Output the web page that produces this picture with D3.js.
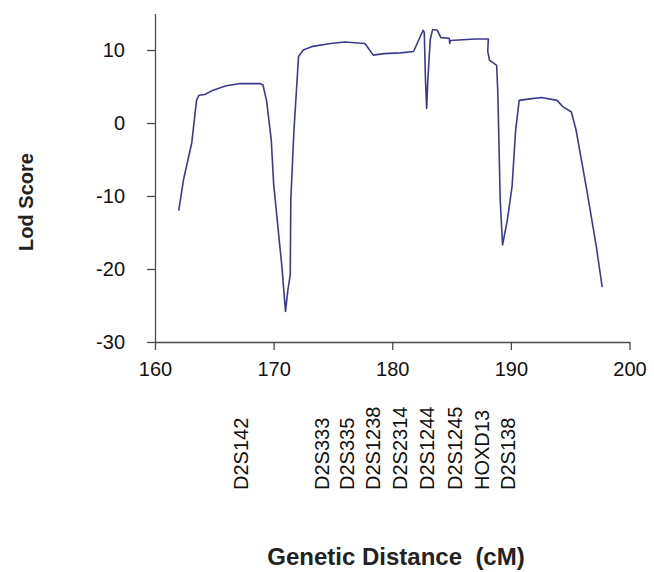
<!DOCTYPE html>
<html>
<head>
<meta charset="utf-8">
<script src="https://cdn.jsdelivr.net/npm/d3@7"></script>
<style>
  html, body { margin: 0; padding: 0; background: #fff; }
  svg { display: block; }
  text { font-family: "Liberation Sans", Arial, sans-serif; }
</style>
</head>
<body>
<svg id="chart" width="654" height="572"></svg>
<script>
// Genetic distance (cM) along the curve
const distance = [162.0, 162.4, 163.1, 163.5, 163.7, 164.2, 164.9, 166.0, 167.2, 168.9,
  169.1, 169.4, 169.8, 170.0, 170.5, 170.7, 171.0, 171.2, 171.4, 171.45,
  171.7, 172.1, 172.5, 173.3, 174.8, 176.0, 177.7, 178.4, 179.3, 180.7,
  181.8, 182.6, 182.7, 182.8, 182.9, 183.0, 183.2, 183.4, 183.8, 184.1,
  184.8, 184.85, 184.9, 187.0, 188.1, 188.05, 188.2, 188.8, 188.9, 189.1,
  189.3, 189.7, 190.1, 190.4, 190.7, 191.6, 192.6, 193.9, 194.4, 195.1,
  195.5, 196.4, 197.2, 197.7];
// Lod score values
const lod = [-12.0, -7.8, -2.7, 3.1, 3.8, 3.9, 4.5, 5.1, 5.4, 5.4,
  5.2, 3.1, -2.3, -8.3, -16.5, -19.7, -25.8, -22.9, -20.8, -10.5,
  -1.4, 9.1, 10.0, 10.5, 10.9, 11.1, 10.9, 9.3, 9.5, 9.6,
  9.8, 12.7, 12.4, 5.9, 2.0, 5.9, 11.4, 12.8, 12.7, 11.7,
  11.6, 10.9, 11.3, 11.5, 11.5, 9.8, 8.6, 7.9, 4.1, -10.5,
  -16.7, -13.3, -8.7, -1.0, 3.1, 3.3, 3.5, 3.1, 2.2, 1.5,
  -1.0, -9.2, -16.9, -22.5];
// Marker labels and their positions (cM)
const markers = ["D2S142", "D2S333", "D2S335", "D2S1238", "D2S2314", "D2S1244", "D2S1245", "HOXD13", "D2S138"];
const markerPos = [167.29, 174.06, 176.16, 178.41, 180.66, 182.91, 185.30, 187.55, 189.79];
// Tick values
const xTicks = [160, 170, 180, 190, 200];
const yTicks = [-30, -20, -10, 0, 10];

const svg = d3.select("#chart");
const x = d3.scaleLinear().domain([160, 200]).range([155, 629.5]);
const y = d3.scaleLinear().domain([-30, 15]).range([342, 13.5]);

const axisColor = "#4a4a4a";
const fmt = d => String(d);

// Y axis
const gy = svg.append("g").attr("transform", `translate(${x(160)},0)`)
  .call(d3.axisLeft(y).tickValues(yTicks).tickFormat(fmt).tickSize(8).tickSizeOuter(0).tickPadding(22));
// X axis
const gx = svg.append("g").attr("transform", `translate(0,${y(-30)})`)
  .call(d3.axisBottom(x).tickValues(xTicks).tickFormat(fmt).tickSize(8).tickSizeOuter(0).tickPadding(12));

[gx, gy].forEach(g => {
  g.select(".domain").attr("stroke", axisColor).attr("stroke-width", 1.3);
  g.selectAll(".tick line").attr("stroke", axisColor).attr("stroke-width", 1.3);
  g.selectAll(".tick text").attr("fill", "#111").style("font-size", "20px")
    .style("font-family", '"Liberation Sans", Arial, sans-serif');
});

// Curve
const pts = distance.map((d, i) => [d, lod[i]]);
svg.append("path")
  .datum(pts)
  .attr("fill", "none")
  .attr("stroke", "#3a3a8e")
  .attr("stroke-width", 1.6)
  .attr("stroke-linejoin", "round")
  .attr("d", d3.line().x(d => x(d[0])).y(d => y(d[1])));

// Marker labels (rotated)
svg.append("g").selectAll("text")
  .data(markers)
  .join("text")
  .attr("transform", (d, i) => `translate(${x(markerPos[i]) + 7},490) rotate(-90)`)
  .attr("text-anchor", "start")
  .attr("fill", "#111")
  .style("font-size", "20px")
  .text(d => d);

// Axis titles
svg.append("text")
  .attr("transform", "translate(33,202) rotate(-90)")
  .attr("text-anchor", "middle")
  .attr("fill", "#222")
  .style("font-size", "20px")
  .style("font-weight", "bold")
  .text("Lod Score");

svg.append("text")
  .attr("x", 396)
  .attr("y", 565)
  .attr("text-anchor", "middle")
  .attr("fill", "#222")
  .style("font-size", "24px")
  .style("font-weight", "bold")
  .style("white-space", "pre")
  .attr("xml:space", "preserve")
  .text("Genetic Distance  (cM)");
</script>
</body>
</html>
